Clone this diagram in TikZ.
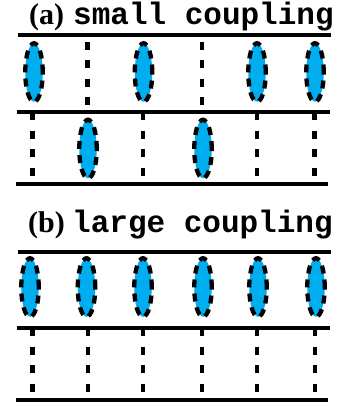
\documentclass[tikz,border=0pt]{standalone}
\usepackage{fontspec}
\setmainfont{Liberation Serif}
\newfontfamily\monof{Liberation Mono}
\usetikzlibrary{shapes.geometric}
\definecolor{lensblue}{RGB}{0,174,239}
\begin{document}
\begin{tikzpicture}[x=1pt,y=-1pt,
  rail/.style={line width=3.8pt},
  site/.style={line width=4.2pt, dash pattern=on 8pt off 10.5pt},
  lens/.style={ellipse, draw, fill=lensblue, line width=4.3pt, dash pattern=on 8pt off 6pt,
               minimum width=17.5pt, minimum height=58.5pt, inner sep=0pt},
  lbl/.style={anchor=base west, inner sep=0pt, font=\fontsize{30}{30}\selectfont\bfseries},
  mono/.style={anchor=base west, inner sep=0pt, font=\fontsize{31}{31}\selectfont\monof\bfseries}]
\useasboundingbox (0,0) rectangle (339,409);

% ---------- panel (a) ----------
\node[lbl]  (ta) at (29,25) {(a)};
\node[mono] (sa) at (73,25) {small coupling};

\coordinate (a0l) at (18,35);  \coordinate (a0r) at (331,35);
\coordinate (a1l) at (17,112); \coordinate (a1r) at (330,112);
\coordinate (a2l) at (16,184); \coordinate (a2r) at (328,184);
\draw[rail] (a0l) -- (a0r);
\draw[rail] (a1l) -- (a1r);
\draw[rail] (a2l) -- (a2r);

% upper row of (a)
\node[lens] (au1) at (34,72.5) {};
\node[lens] (au3) at (143.5,72.5) {};
\node[lens] (au5) at (257,72.5) {};
\node[lens] (au6) at (315,72.5) {};
\coordinate (au2t) at (87.5,42);  \coordinate (au2b) at (87.5,107);
\coordinate (au4t) at (202,42);   \coordinate (au4b) at (202,107);
\draw[site] (au2t) -- (au2b);
\draw[site] (au4t) -- (au4b);

% lower row of (a)
\node[lens] (al2) at (88,149) {};
\node[lens] (al4) at (203,149) {};
\foreach \n/\x in {1/32.5,3/143,5/257,6/314.5}{
  \coordinate (al\n t) at (\x,112);
  \coordinate (al\n b) at (\x,177);
  \draw[site] (al\n t) -- (al\n b);
}

% ---------- panel (b) ----------
\node[lbl]  (tb) at (28,232) {(b)};
\node[mono] (sb) at (72,232) {large coupling};

\coordinate (b0l) at (18,252);  \coordinate (b0r) at (331,252);
\coordinate (b1l) at (17,328);  \coordinate (b1r) at (330,328);
\coordinate (b2l) at (16,400);  \coordinate (b2r) at (328,400);
\draw[rail] (b0l) -- (b0r);
\draw[rail] (b1l) -- (b1r);
\draw[rail] (b2l) -- (b2r);

\foreach \n/\x in {1/30,2/86.5,3/143,4/203,5/258,6/316}{
  \node[lens] (bu\n) at (\x,287.5) {};
}
\foreach \n/\x in {1/32.5,2/88,3/143,4/202,5/257,6/315}{
  \coordinate (bl\n t) at (\x,328);
  \coordinate (bl\n b) at (\x,394);
  \draw[site] (bl\n t) -- (bl\n b);
}
\end{tikzpicture}
\end{document}
